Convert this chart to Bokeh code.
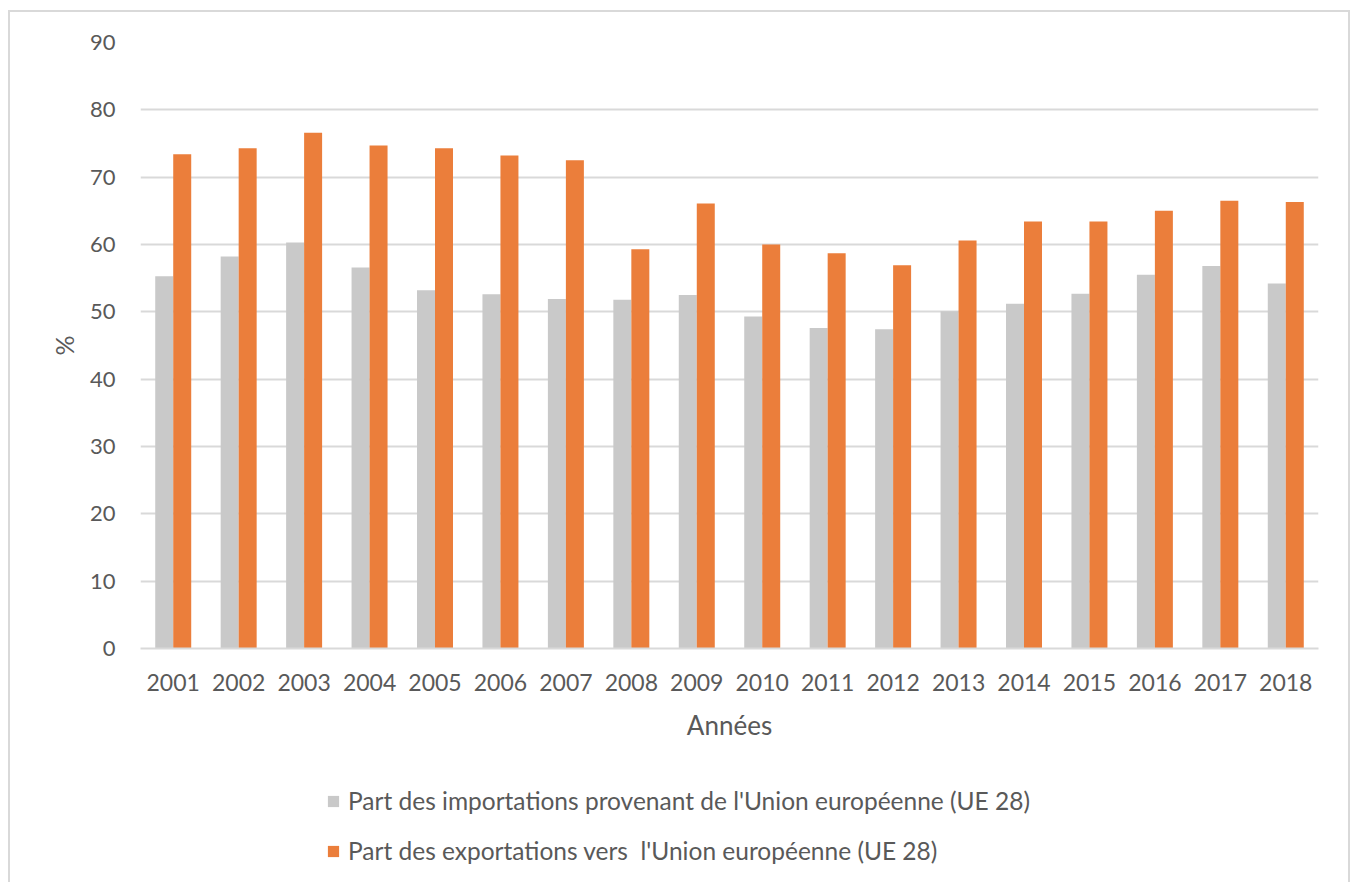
from bokeh.plotting import figure
from bokeh.layouts import column
from bokeh.models import ColumnDataSource, FactorRange, FixedTicker, Legend, LegendItem, Range1d
from bokeh.transform import dodge
from bokeh.embed import file_html
from bokeh.resources import INLINE

years = [str(y) for y in range(2001, 2019)]
imports_ue = [55.3, 58.2, 60.3, 56.6, 53.2, 52.6, 51.9, 51.8, 52.5, 49.3, 47.6, 47.4, 50.1, 51.2, 52.7, 55.5, 56.8, 54.2]
exports_ue = [73.4, 74.3, 76.6, 74.7, 74.3, 73.2, 72.5, 59.3, 66.1, 60.0, 58.7, 56.9, 60.6, 63.4, 63.4, 65.0, 66.5, 66.3]
y_ticks = [0, 10, 20, 30, 40, 50, 60, 70, 80, 90]
label_imports = "Part des importations provenant de l'Union européenne (UE 28)"
label_exports = "Part des exportations vers  l'Union européenne (UE 28)"

FONT = "Lato"
TXT = "#595959"
GRID = "#d9d9d9"
GRAY = "#c9c9c9"
ORANGE = "#eb7e3b"
BORDER = "2px solid #d9d9d9"

src = ColumnDataSource(data=dict(year=years, imp=imports_ue, exp=exports_ue))

p = figure(
    x_range=FactorRange(*years, range_padding=0),
    y_range=Range1d(0, 90),
    width=1342, height=750,
    output_backend="svg", toolbar_location=None,
    min_border_left=130, min_border_right=34, min_border_top=30, min_border_bottom=114,
)
p.styles = {"border-left": BORDER, "border-top": BORDER, "border-right": BORDER,
            "box-sizing": "border-box"}
p.margin = (10, 0, 0, 8)
p.outline_line_color = None

r1 = p.vbar(x=dodge("year", -0.1375, range=p.x_range), top="imp", width=0.275, source=src,
            fill_color=GRAY, line_color=None)
r2 = p.vbar(x=dodge("year", 0.1375, range=p.x_range), top="exp", width=0.275, source=src,
            fill_color=ORANGE, line_color=None)

# y axis
p.yaxis.ticker = FixedTicker(ticks=y_ticks)
p.yaxis.axis_line_color = None
p.yaxis.major_tick_line_color = None
p.yaxis.minor_tick_line_color = None
p.yaxis.major_label_text_font = FONT
p.yaxis.major_label_text_font_size = "22px"
p.yaxis.major_label_text_color = TXT
p.yaxis.major_label_standoff = 19
p.yaxis.axis_label = "%"
p.yaxis.axis_label_text_font = FONT
p.yaxis.axis_label_text_font_size = "25px"
p.yaxis.axis_label_text_font_style = "normal"
p.yaxis.axis_label_text_color = TXT
p.yaxis.axis_label_standoff = 8

# x axis
p.xaxis.axis_line_color = GRID
p.xaxis.axis_line_width = 2
p.xaxis.major_tick_line_color = None
p.xaxis.minor_tick_line_color = None
p.xaxis.major_label_text_font = FONT
p.xaxis.major_label_text_font_size = "23px"
p.xaxis.major_label_text_color = TXT
p.xaxis.major_label_standoff = 19
p.xaxis.axis_label = "Années"
p.xaxis.axis_label_text_font = FONT
p.xaxis.axis_label_text_font_size = "26px"
p.xaxis.axis_label_text_font_style = "normal"
p.xaxis.axis_label_text_color = TXT
p.xaxis.axis_label_standoff = 15

p.xgrid.grid_line_color = None
p.ygrid.grid_line_color = GRID
p.ygrid.grid_line_width = 2

# legend area (second figure, same series, bars out of view)
p2 = figure(
    x_range=FactorRange(*years, range_padding=0),
    y_range=Range1d(1000, 1001),
    width=1342, height=122,
    output_backend="svg", toolbar_location=None,
    x_axis_type=None, y_axis_type=None,
    min_border=0, min_border_left=0, min_border_right=0, min_border_top=0, min_border_bottom=0,
)
p2.styles = {"border-left": BORDER, "border-right": BORDER, "box-sizing": "border-box"}
p2.margin = (0, 0, 0, 8)
p2.outline_line_color = None
l1 = p2.vbar(x="year", top="imp", width=0.275, source=src, fill_color=GRAY, line_color=None)
l2 = p2.vbar(x="year", top="exp", width=0.275, source=src, fill_color=ORANGE, line_color=None)

legend = Legend(
    items=[LegendItem(label=label_imports, renderers=[l1]),
           LegendItem(label=label_exports, renderers=[l2])],
    orientation="vertical",
    location=(186, 17),
    label_text_font=FONT, label_text_font_size="24.5px", label_text_color=TXT,
    glyph_width=14, glyph_height=14, label_standoff=8, spacing=21,
    padding=0, margin=0, border_line_color=None, background_fill_alpha=0,
)
p2.add_layout(legend, "center")

layout = column(p, p2, spacing=0)
open("out.html", "w").write(file_html(layout, INLINE))
